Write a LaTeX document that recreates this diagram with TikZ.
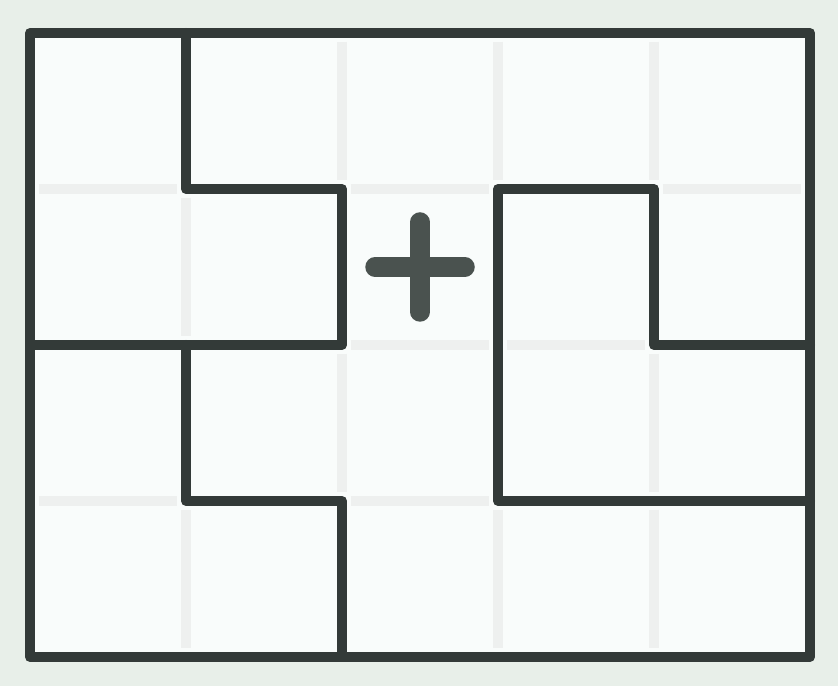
\documentclass[tikz,border=0pt]{standalone}
\definecolor{bgcol}{HTML}{E8EFE9}
\definecolor{cellcol}{HTML}{F9FCFB}
\definecolor{gridcol}{HTML}{EEF0EF}
\definecolor{wallcol}{HTML}{333A38}
\definecolor{pluscol}{HTML}{4A524F}

\begin{document}
\begin{tikzpicture}[x=3.12cm,y=-3.12cm,
  grid line/.style={gridcol,line width=0.19cm},
  wall/.style={wallcol,line width=0.2cm,line join=round,line cap=round},
  plus sign/.style={pluscol,line width=0.39cm,line cap=round}]
 \fill[bgcol] (-0.1923,-0.2115) rectangle (5.1795,4.1859);
 \fill[cellcol] (0,0) rectangle (5,4);
 % faint grid
 \foreach \i in {1,...,4} \foreach \j in {0,...,3}
   \draw[grid line] (\i,\j+0.055) -- (\i,\j+0.945);
 \foreach \j in {1,2,3} \foreach \i in {0,...,4}
   \draw[grid line] (\i+0.055,\j) -- (\i+0.945,\j);
 % walls
 \draw[wall] (0,0) rectangle (5,4);
 \draw[wall] (1,0) |- (2,1) |- (0,2);
 \draw[wall] (1,2) |- (2,3) -- (2,4);
 \draw[wall] (5,3) -- (3,3) |- (4,1) |- (5,2);
 % plus
 \coordinate (plus) at (2.5,1.5);
 \draw[plus sign] ([xshift=-0.9cm]plus) -- ([xshift=0.9cm]plus);
 \draw[plus sign] ([yshift=-0.9cm]plus) -- ([yshift=0.9cm]plus);
\end{tikzpicture}
\end{document}
